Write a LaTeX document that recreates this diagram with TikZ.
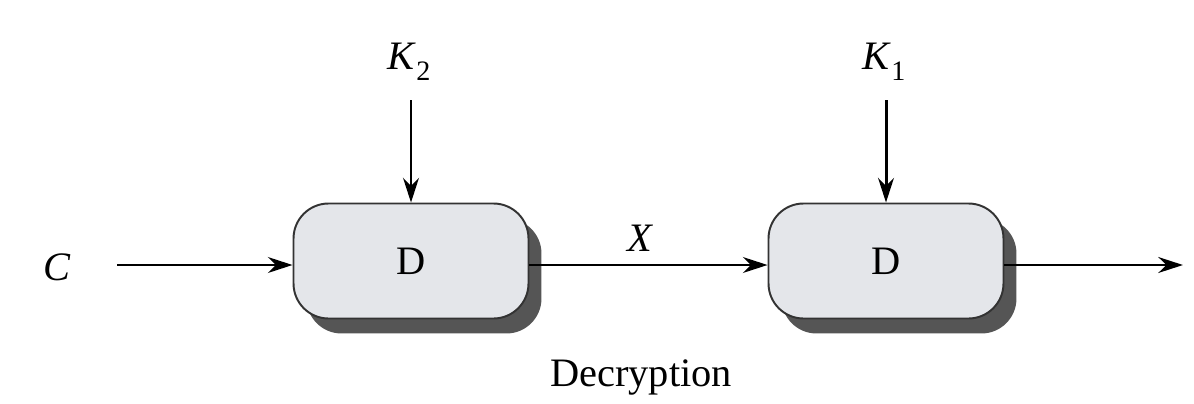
\documentclass[tikz,border=0pt]{standalone}
\usepackage{fontspec}
\setmainfont{Liberation Serif}
\usetikzlibrary{arrows.meta,shadows}
\definecolor{boxfill}{RGB}{228,230,234}
\definecolor{shadowgray}{RGB}{85,85,85}
\newcommand{\subtwo}[1]{\raisebox{-0.28em}{\fontsize{16}{18}\selectfont #1}}
\begin{document}
\begin{tikzpicture}[x=0.02cm,y=-0.02cm,
  font=\fontsize{23}{28}\selectfont,
  dbox/.style={draw=black!80,line width=1.1pt,fill=boxfill,rounded corners=0.7cm,
    minimum width=4.7cm,minimum height=2.3cm,inner sep=0pt,
    drop shadow={shadow xshift=0.26cm,shadow yshift=-0.3cm,fill=shadowgray,opacity=1}},
  arr/.style={line width=1.7pt,-{Stealth[length=14pt,width=9pt]}},
  lbl/.style={inner sep=0pt}]
\useasboundingbox (0,0) rectangle (1194,403);
\node[dbox] (d1) at (411,261) {D};
\node[dbox] (d2) at (886,261) {D};
\node[lbl] (c) at (57,267) {\textit{C}};
\coordinate (cin) at (117,265);
\node[lbl] (k2) at (409,62) {\textit{K}\subtwo{2}};
\node[lbl] (k1) at (884,62) {\textit{K}\subtwo{1}};
\coordinate (k2s) at (411,100);
\coordinate (k1s) at (886,100);
\node[lbl] (x) at (640,238) {\textit{X}};
\coordinate (out) at (1183,265);
\node[lbl] (dec) at (641,377) {Decryption};
\draw[arr] (cin) -- (cin -| d1.west);
\draw[arr] (d1.east |- cin) -- (d2.west |- cin);
\draw[arr] (d2.east |- cin) -- (out);
\draw[arr] (k2s) -- (d1.north);
\draw[arr] (k1s) -- (d2.north);
\end{tikzpicture}
\end{document}
